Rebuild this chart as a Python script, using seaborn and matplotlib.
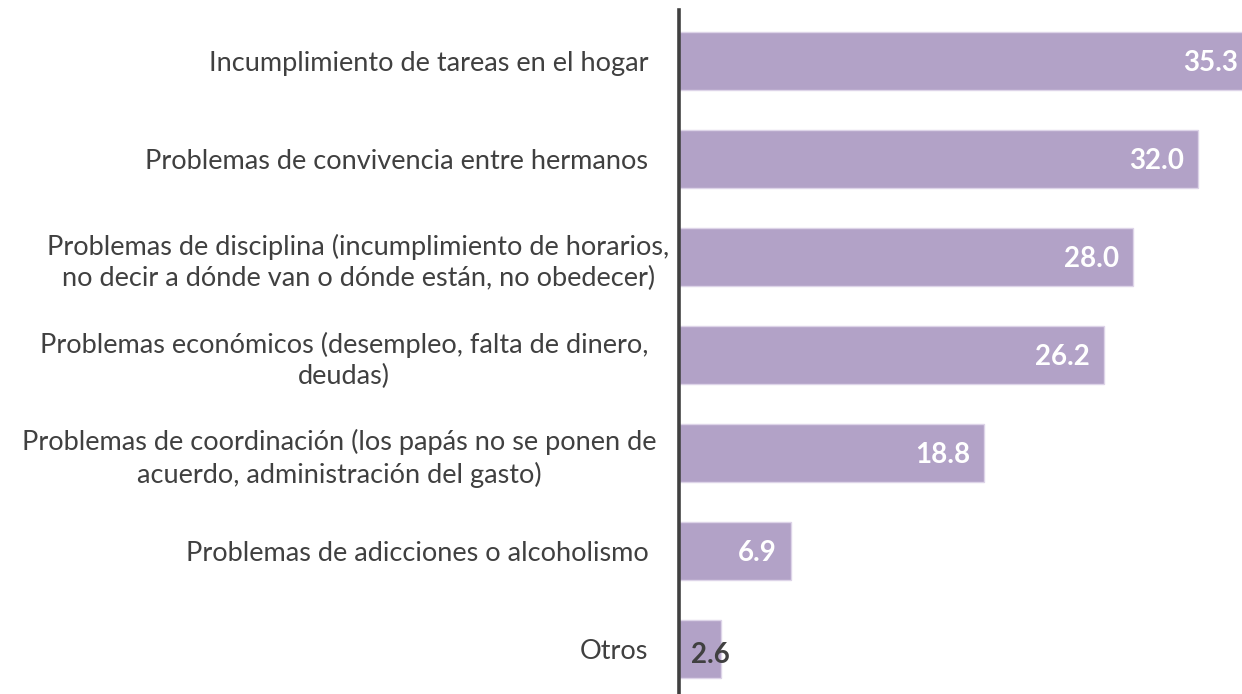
import matplotlib
matplotlib.use("Agg")
import matplotlib.pyplot as plt
import seaborn as sns
import pandas as pd

categorias = [
    "Incumplimiento de tareas en el hogar",
    "Problemas de convivencia entre hermanos",
    "Problemas de disciplina (incumplimiento de horarios,\nno decir a dónde van o dónde están, no obedecer)",
    "Problemas económicos (desempleo, falta de dinero,\ndeudas)",
    "Problemas de coordinación (los papás no se ponen de\nacuerdo, administración del gasto)",
    "Problemas de adicciones o alcoholismo",
    "Otros",
]
porcentajes = [35.3, 32.0, 28.0, 26.2, 18.8, 6.9, 2.6]

sns.set_theme(style="white")
plt.rcParams["font.family"] = ["Lato", "DejaVu Sans"]

df = pd.DataFrame({"categoria": categorias, "valor": porcentajes})

W, H = 1242, 694
fig = plt.figure(figsize=(W / 100, H / 100), dpi=100)
# axes placed in pixel terms: x=0 at 679px, 16.22 px per unit
x0_px = 679
px_unit = 16.22
ax_w = 35.3 * px_unit
ax = fig.add_axes([x0_px / W, 0, ax_w / W, (H - 10) / H])

sns.barplot(data=df, x="valor", y="categoria", orient="h", color="#b2a2c7",
            saturation=1, width=0.59, edgecolor="#ddd4e8", linewidth=1, ax=ax)

ax.set_xlim(0, 35.3)
ax.set_ylim(6.46, -0.52)
ax.set_xlabel("")
ax.set_ylabel("")
ax.set_xticks([])
for s in ["top", "right", "bottom"]:
    ax.spines[s].set_visible(False)
ax.spines["left"].set_color("#404040")
ax.spines["left"].set_linewidth(2.6)

ax.tick_params(axis="y", length=0, pad=22, labelsize=19.5, labelcolor="#404040")
for lbl in ax.get_yticklabels():
    lbl.set_multialignment("center")
    lbl.set_linespacing(1.3)
ax.yaxis.get_major_ticks()[2].set_pad(7)
ax.yaxis.get_major_ticks()[4].set_pad(16)

for i, v in enumerate(porcentajes):
    if v < 5:
        ax.annotate(f"{v:.1f}", xy=(0, i), xytext=(12, -6), textcoords="offset pixels",
                    ha="left", va="center", fontsize=20, fontweight="bold", color="#404040")
    else:
        ax.annotate(f"{v:.1f}", xy=(v, i), xytext=(-14, -2), textcoords="offset pixels",
                    ha="right", va="center", fontsize=20, fontweight="bold", color="white")

fig.savefig("out.png", dpi=100)
